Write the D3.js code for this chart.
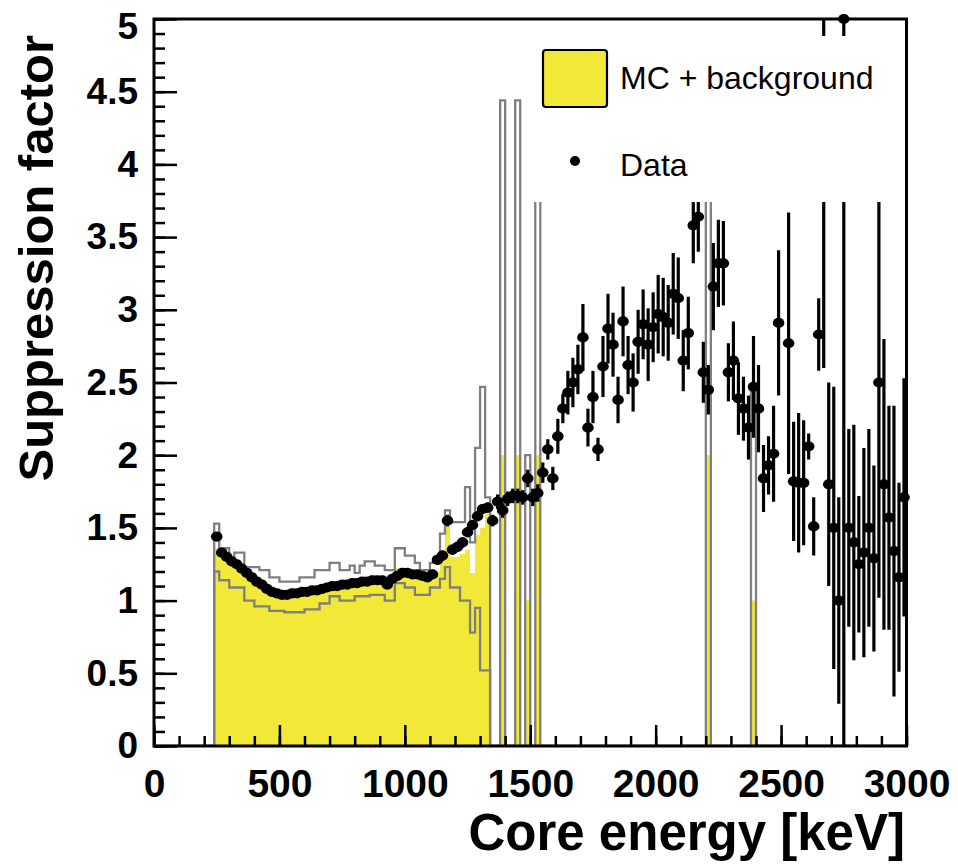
<!DOCTYPE html>
<html>
<head>
<meta charset="utf-8">
<script src="https://cdn.jsdelivr.net/npm/d3@7"></script>
<style>
body { margin: 0; background: #fff; }
svg { display: block; }
</style>
</head>
<body>
<svg id="chart" width="958" height="868"></svg>
<script>
// MC histogram binning [keV]
var binWidth = 20;

// MC + background band below 1340 keV, first bin starts at 240 keV
var mcStart = 240;
var mcCentral = [1.36, 1.30, 1.26, 1.24, 1.22, 1.20, 1.16, 1.14, 1.10, 1.08,
                 1.06, 1.04, 1.03, 1.02, 1.02, 1.03, 1.03, 1.04, 1.05, 1.05,
                 1.07, 1.08, 1.09, 1.12, 1.12, 1.10, 1.10, 1.11, 1.10, 1.12,
                 1.14, 1.14, 1.13, 1.13, 1.10, 1.10, 1.22, 1.22, 1.20, 1.19,
                 1.16, 1.14, 1.13, 1.15, 1.20, 1.28, 1.51, 1.30, 1.30, 1.32,
                 1.35, 1.19, 1.45, 1.50, 1.60];
var mcUpper = [1.53, 1.36, 1.36, 1.28, 1.33, 1.33, 1.23, 1.23, 1.23, 1.21,
               1.21, 1.16, 1.16, 1.13, 1.13, 1.13, 1.13, 1.16, 1.16, 1.16,
               1.21, 1.21, 1.21, 1.26, 1.26, 1.21, 1.21, 1.24, 1.19, 1.24,
               1.27, 1.27, 1.24, 1.24, 1.21, 1.21, 1.36, 1.36, 1.31, 1.31,
               1.26, 1.21, 1.21, 1.26, 1.30, 1.46, 1.62, 1.54, 1.54, 1.54,
               1.78, 1.40, 2.05, 2.47, 1.71];
var mcLower = [1.20, 1.14, 1.14, 1.09, 1.09, 1.09, 1.00, 1.00, 0.96, 0.96,
               0.96, 0.93, 0.93, 0.93, 0.92, 0.92, 0.92, 0.92, 0.94, 0.94,
               0.94, 0.98, 0.98, 1.03, 1.03, 1.00, 1.00, 1.00, 1.03, 1.03,
               1.03, 1.04, 1.04, 1.04, 1.00, 1.00, 1.12, 1.12, 1.09, 1.09,
               1.04, 1.04, 1.04, 1.09, 1.09, 1.15, 1.23, 1.09, 1.09, 1.00,
               1.00, 0.78, 0.95, 0.52, 0.52];

// isolated MC bins at higher energy (bin start, keV)
var peakBins = [1380, 1440, 1480, 1520, 2200, 2380];
var peakCentral = [2.0, 2.0, 1.0, 2.0, 2.0, 1.0];
var peakUpper = [4.44, 4.44, 2.0, 4.44, 4.44, 2.45];
var peakLower = [0, 0, 0, 0, 0, 0];

// measured suppression factor, bin centres [keV]
var dataEnergy = [250, 270, 290, 310, 330, 350, 370, 390, 410, 430,
                  450, 470, 490, 510, 530, 550, 570, 590, 610, 630,
                  650, 670, 690, 710, 730, 750, 770, 790, 810, 830,
                  850, 870, 890, 910, 930, 950, 970, 990, 1010, 1030,
                  1050, 1070, 1090, 1110, 1130, 1150, 1170, 1190, 1210, 1230,
                  1250, 1270, 1290, 1310, 1330, 1350, 1370, 1390, 1410, 1430,
                  1450, 1470, 1490, 1510, 1530, 1550, 1570, 1590, 1610, 1630,
                  1650, 1670, 1690, 1710, 1730, 1750, 1770, 1790, 1810, 1830,
                  1850, 1870, 1890, 1910, 1930, 1950, 1970, 1990, 2010, 2030,
                  2050, 2070, 2090, 2110, 2130, 2150, 2170, 2190, 2210, 2230,
                  2250, 2270, 2290, 2310, 2330, 2350, 2370, 2390, 2410, 2430,
                  2450, 2470, 2490, 2530, 2550, 2570, 2590, 2610, 2630, 2650,
                  2670, 2690, 2710, 2730, 2750, 2770, 2790, 2810, 2830, 2850,
                  2870, 2890, 2910, 2930, 2950, 2970, 2990];
var dataValue = [1.44, 1.33, 1.30, 1.27, 1.25, 1.22, 1.19, 1.16, 1.13, 1.11,
                 1.08, 1.06, 1.05, 1.04, 1.04, 1.05, 1.05, 1.06, 1.06, 1.07,
                 1.07, 1.08, 1.09, 1.10, 1.10, 1.11, 1.11, 1.12, 1.12, 1.13,
                 1.13, 1.14, 1.14, 1.14, 1.11, 1.15, 1.17, 1.19, 1.19, 1.18,
                 1.18, 1.17, 1.16, 1.18, 1.28, 1.31, 1.55, 1.35, 1.37, 1.40,
                 1.47, 1.52, 1.58, 1.63, 1.64, 1.55, 1.68, 1.62, 1.70, 1.72,
                 1.72, 1.71, 1.84, 1.71, 1.74, 1.88, 2.04, 1.84, 2.13, 2.32,
                 2.43, 2.50, 2.59, 2.81, 2.19, 2.40, 2.04, 2.61, 2.87, 2.76,
                 2.38, 2.92, 2.62, 2.50, 2.78, 2.90, 2.76, 2.88, 2.97, 2.95,
                 2.91, 3.11, 3.08, 2.65, 2.84, 3.58, 3.64, 2.57, 2.45, 3.16,
                 3.32, 3.32, 2.57, 2.65, 2.39, 2.32, 2.19, 2.47, 2.32, 1.84,
                 1.93, 2.01, 2.91, 2.77, 1.82, 1.81, 1.81, 2.06, 1.51, 2.83,
                 5.60, 1.80, 1.50, 1.00, 5.00, 1.50, 1.40, 1.25, 1.33, 1.50,
                 1.29, 2.50, 1.80, 1.57, 1.34, 1.16, 1.71];
var dataError = [0.03, 0.03, 0.03, 0.03, 0.03, 0.03, 0.03, 0.03, 0.03, 0.03,
                 0.03, 0.03, 0.03, 0.03, 0.03, 0.03, 0.03, 0.03, 0.03, 0.03,
                 0.03, 0.03, 0.03, 0.03, 0.03, 0.03, 0.03, 0.03, 0.03, 0.03,
                 0.03, 0.03, 0.03, 0.03, 0.03, 0.03, 0.03, 0.03, 0.03, 0.03,
                 0.03, 0.03, 0.03, 0.03, 0.035, 0.035, 0.04, 0.035, 0.035, 0.035,
                 0.035, 0.035, 0.035, 0.035, 0.035, 0.04, 0.05, 0.05, 0.05, 0.05,
                 0.05, 0.05, 0.06, 0.06, 0.06, 0.07, 0.07, 0.08, 0.12, 0.10,
                 0.15, 0.17, 0.17, 0.23, 0.13, 0.18, 0.08, 0.21, 0.24, 0.22,
                 0.16, 0.24, 0.20, 0.20, 0.22, 0.24, 0.25, 0.24, 0.27, 0.27,
                 0.26, 0.28, 0.28, 0.21, 0.25, 0.26, 0.24, 0.21, 0.17, 0.30,
                 0.30, 0.29, 0.20, 0.27, 0.25, 0.22, 0.22, 0.35, 0.30, 0.23,
                 0.20, 0.33, 0.50, 0.90, 0.41, 0.48, 0.43, 0.09, 0.20, 0.25,
                 3.00, 0.70, 0.97, 0.71, 5.30, 0.68, 0.81, 0.47, 0.72, 0.68,
                 0.64, 1.48, 1.00, 0.77, 1.00, 0.65, 0.82];

var xTicks = [0, 500, 1000, 1500, 2000, 2500, 3000];
var yTicks = [0, 0.5, 1, 1.5, 2, 2.5, 3, 3.5, 4, 4.5, 5];

var fontFamily = "'Liberation Sans', Arial, Helvetica, sans-serif";
var yellow = "#f1e838";
var grey = "#7f7f7f";

var svg = d3.select("#chart");

var xScale = d3.scaleLinear().domain([0, 3000]).range([154, 906.5]);
var yScale = d3.scaleLinear().domain([0, 5]).range([746, 19]);

svg.append("clipPath").attr("id", "frameClip")
    .append("rect")
    .attr("x", xScale(0)).attr("y", yScale(5))
    .attr("width", xScale(3000) - xScale(0))
    .attr("height", yScale(0) - yScale(5));

// full 0-3000 keV histogram from the low band and the isolated bins
var edges = d3.range(0, 3000, binWidth);
function buildHist(lowValues, peakValues)
{
    var h = edges.map(function() { return 0; });
    lowValues.forEach(function(v, i) { h[mcStart / binWidth + i] = v; });
    peakBins.forEach(function(e, i) { h[e / binWidth] = peakValues[i]; });
    var pts = edges.map(function(e, i) { return [e, h[i]]; });
    pts.push([3000, h[h.length - 1]]);
    return pts;
}

var central = buildHist(mcCentral, peakCentral);
var upper = buildHist(mcUpper, peakUpper);
var lower = buildHist(mcLower, peakLower);

var plot = svg.append("g").attr("clip-path", "url(#frameClip)");

var area = d3.area()
    .x(function(d) { return xScale(d[0]); })
    .y0(yScale(0))
    .y1(function(d) { return yScale(d[1]); })
    .curve(d3.curveStepAfter);

var step = d3.line()
    .x(function(d) { return xScale(d[0]); })
    .y(function(d) { return yScale(d[1]); })
    .curve(d3.curveStepAfter);

plot.append("path").datum(central)
    .attr("d", area)
    .style("fill", yellow);

[upper, lower].forEach(function(h)
{
    plot.append("path").datum(h)
        .attr("d", step)
        .style("fill", "none")
        .style("stroke", grey)
        .style("stroke-width", 2.3);
});

var points = dataEnergy.map(function(e, i)
{
    return { e: e, v: dataValue[i], err: dataError[i] };
});

plot.selectAll("line.err").data(points).enter().append("line")
    .attr("class", "err")
    .attr("x1", function(d) { return xScale(d.e); })
    .attr("x2", function(d) { return xScale(d.e); })
    .attr("y1", function(d) { return yScale(d.v - d.err); })
    .attr("y2", function(d) { return yScale(d.v + d.err); })
    .style("stroke", "#000")
    .style("stroke-width", 3.2);

svg.append("g").selectAll("ellipse")
    .data(points.filter(function(d) { return d.v <= 5; }))
    .enter().append("ellipse")
    .attr("cx", function(d) { return xScale(d.e); })
    .attr("cy", function(d) { return yScale(d.v); })
    .attr("rx", 5.8)
    .attr("ry", 5.1)
    .style("fill", "#000");

// legend (white box hides what lies behind it)
var legend = svg.append("g");
legend.append("rect")
    .attr("x", 528).attr("y", 36)
    .attr("width", xScale(3000) - 528).attr("height", 166)
    .style("fill", "#fff");
legend.append("rect")
    .attr("x", 543).attr("y", 50)
    .attr("width", 64).attr("height", 57)
    .attr("rx", 3)
    .style("fill", yellow)
    .style("stroke", "#000")
    .style("stroke-width", 2.2);
legend.append("text")
    .attr("x", 620).attr("y", 89)
    .style("font-family", fontFamily)
    .style("font-size", "32px")
    .text("MC + background");
legend.append("circle")
    .attr("cx", 575).attr("cy", 161).attr("r", 5)
    .style("fill", "#000");
legend.append("text")
    .attr("x", 620).attr("y", 176)
    .style("font-family", fontFamily)
    .style("font-size", "32px")
    .text("Data");

// axes
var xMinor = svg.append("g")
    .attr("transform", "translate(0," + yScale(0) + ")")
    .call(d3.axisBottom(xScale).tickValues(d3.range(0, 3001, 100)).tickSize(-10).tickFormat(""));
var xMajor = svg.append("g")
    .attr("transform", "translate(0," + yScale(0) + ")")
    .call(d3.axisBottom(xScale).tickValues(xTicks).tickSize(-21).tickPadding(23).tickFormat(d3.format("d")));

var yMinor = svg.append("g")
    .attr("transform", "translate(" + xScale(0) + ",0)")
    .call(d3.axisLeft(yScale).tickValues(d3.range(0, 5.001, 0.1)).tickSize(-11).tickFormat(""));
var yMajor = svg.append("g")
    .attr("transform", "translate(" + xScale(0) + ",0)")
    .call(d3.axisLeft(yScale).tickValues(yTicks).tickSize(-23).tickPadding(16).tickFormat(d3.format("~g")));

[xMinor, xMajor, yMinor, yMajor].forEach(function(g)
{
    g.select(".domain").remove();
    g.selectAll(".tick line").style("stroke", "#000").style("stroke-width", 2.5);
    g.selectAll(".tick text")
        .style("font-family", fontFamily)
        .style("font-weight", "bold")
        .style("fill", "#000");
});
xMajor.selectAll(".tick text").style("font-size", "39px");
yMajor.selectAll(".tick text").style("font-size", "37px");
// the top label sits a little below its tick so it stays on the page
yMajor.selectAll(".tick text").filter(function(d) { return d === 5; }).attr("y", 8);

svg.append("rect")
    .attr("x", xScale(0)).attr("y", yScale(5))
    .attr("width", xScale(3000) - xScale(0))
    .attr("height", yScale(0) - yScale(5))
    .style("fill", "none")
    .style("stroke", "#000")
    .style("stroke-width", 3);

svg.append("text")
    .attr("x", 905).attr("y", 850)
    .attr("text-anchor", "end")
    .style("font-family", fontFamily)
    .style("font-size", "51px")
    .style("font-weight", "bold")
    .text("Core energy [keV]");

svg.append("text")
    .attr("transform", "translate(53,35) rotate(-90)")
    .attr("text-anchor", "end")
    .style("font-family", fontFamily)
    .style("font-size", "49px")
    .style("font-weight", "bold")
    .text("Suppression factor");
</script>
</body>
</html>
